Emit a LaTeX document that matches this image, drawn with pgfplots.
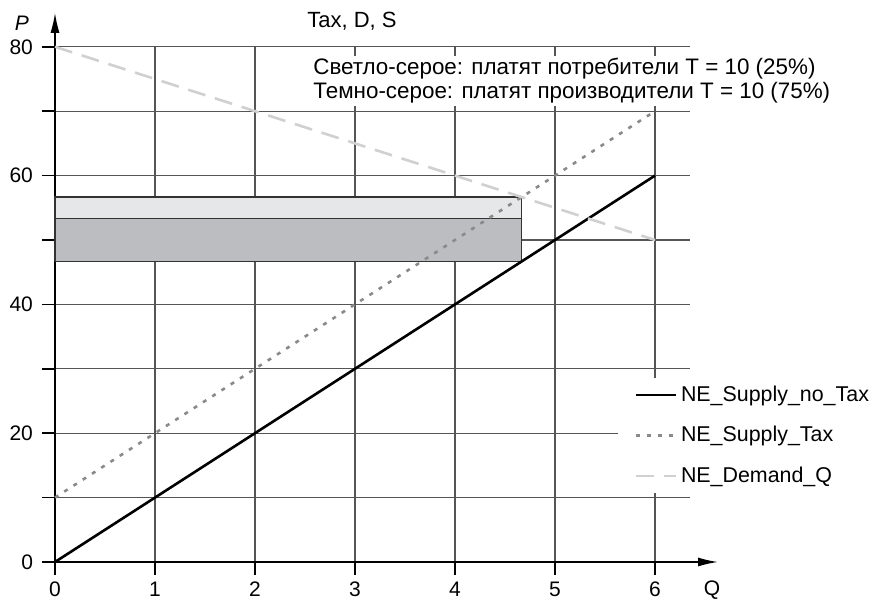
\documentclass[border=0pt]{standalone}
\usepackage{pgfplots}
\pgfplotsset{compat=1.18}
\usepackage{fontspec}
\setmainfont{Liberation Sans}
\usetikzlibrary{arrows.meta}

\definecolor{lightbox}{HTML}{E6E7E8}
\definecolor{darkbox}{HTML}{BCBDC0}
\definecolor{boxedge}{HTML}{333333}
\definecolor{gridgray}{HTML}{555555}
\definecolor{taxgray}{HTML}{8A8A8A}
\definecolor{demgray}{HTML}{D0D0D0}

\begin{document}
\begin{tikzpicture}
% page frame: 880x604 px at 0.5pt per px, data origin at (55px, 562px)
\path[use as bounding box] (-27.5pt,-21pt) rectangle (412.5pt,281pt);
\begin{axis}[
  anchor=origin, at={(0,0)},
  x=50pt, y=3.22pt,
  xmin=0, xmax=6.35, ymin=0, ymax=80,
  axis lines=left,
  axis line style={line width=0.75pt, black},
  x axis line style={-{Latex[length=10pt,width=4.5pt]}, shorten >=-14pt},
  y axis line style={-{Latex[length=10pt,width=4.5pt]}, shorten >=-17pt},
  xtick={0,1,...,6}, ytick={0,10,...,80},
  yticklabels={0,,20,,40,,60,,80},
  tick align=outside, major tick length=6.5pt,
  tick style={line width=0.75pt, black},
  grid=major,
  major grid style={line width=0.6pt, gridgray},
  tick label style={font=\fontsize{10.5}{12}\selectfont},
  yticklabel style={xshift=-1pt},
  /pgf/number format/assume math mode=true,
  clip=false,
  legend style={at={(axis cs:5.63,28.7)}, anchor=north west, draw=none,
    fill=white, font=\fontsize{10.7}{12}\selectfont, row sep=7pt,
    inner xsep=8pt, inner ysep=2pt},
  legend cell align=left,
  legend image code/.code={\draw[#1] (0pt,0pt) -- (20pt,0pt);},
]

% tax burden boxes
\addplot[fill=darkbox, draw=boxedge, line width=0.6pt, forget plot] coordinates {
(0,46.667) (4.667,46.667) (4.667,53.333) (0,53.333) (0,46.667)
};
\addplot[fill=lightbox, draw=boxedge, line width=0.6pt, forget plot] coordinates {
(0,53.333) (4.667,53.333) (4.667,56.667) (0,56.667) (0,53.333)
};

% supply without tax
\addplot[black, line width=1.3pt] coordinates {
(0,0) (1,10) (2,20) (3,30) (4,40) (5,50) (6,60)
};
\addlegendentry{NE\_Supply\_no\_Tax}

% supply with tax
\addplot[taxgray, line width=1.3pt, dash pattern=on 2pt off 3.5pt] coordinates {
(0,10) (1,20) (2,30) (3,40) (4,50) (5,60) (6,70)
};
\addlegendentry{NE\_Supply\_Tax}

% demand
\addplot[demgray, line width=1.3pt, dash pattern=on 9pt off 5pt] coordinates {
(0,80) (1,75) (2,70) (3,65) (4,60) (5,55) (6,50)
};
\addlegendentry{NE\_Demand\_Q}

\node[fill=white, align=left, anchor=north west, inner sep=1.5pt,
  font=\fontsize{11.2}{11.7}\selectfont] at (axis cs:2.55,78.7)
  {Светло-серое: платят потребители T = 10 (25\%)\\
   Темно-серое: платят производители T = 10 (75\%)};
\node[font=\fontsize{11}{12}\selectfont] at (axis cs:2.97,83.9) {Tax, D, S};
\node[font=\fontsize{10.5}{12}\selectfont\itshape] at (axis cs:-0.33,83.6) {P};
\node[font=\fontsize{10.5}{12}\selectfont] at (axis cs:6.57,-4.3) {Q};
\end{axis}
\end{tikzpicture}
\end{document}
